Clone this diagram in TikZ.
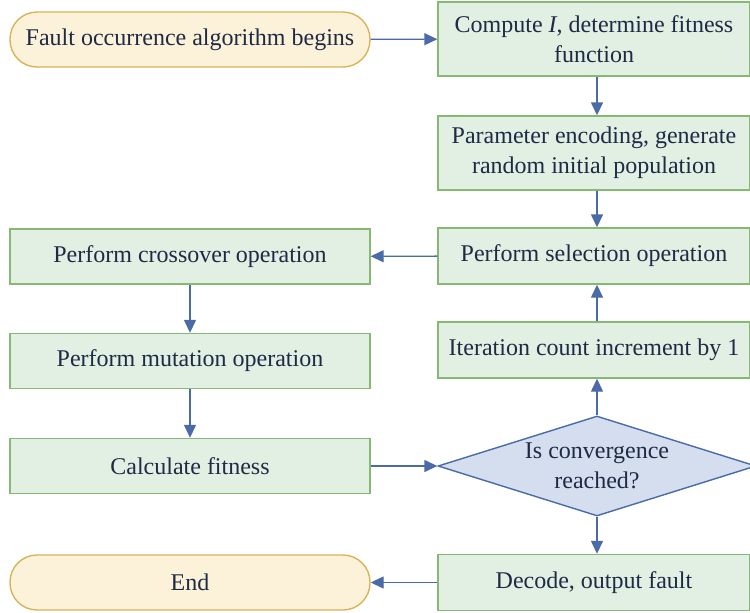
\documentclass[tikz,border=0pt]{standalone}
\usepackage{fontspec}
\setmainfont{Liberation Serif}
\usetikzlibrary{shapes.geometric,arrows.meta}
\definecolor{greenfill}{HTML}{E2EFE3}
\definecolor{greenline}{HTML}{86BA73}
\definecolor{goldfill}{HTML}{FCF1D9}
\definecolor{goldline}{HTML}{D8B457}
\definecolor{bluefill}{HTML}{D5DEEE}
\definecolor{blueline}{HTML}{4A6AA8}
\definecolor{inknavy}{HTML}{1F2A44}
\begin{document}
\begin{tikzpicture}[x=1pt, y=-1pt,
    every node/.style={font=\fontsize{24}{30}\selectfont, text=inknavy, align=center, inner sep=2pt},
    procbox/.style={draw=greenline, fill=greenfill, line width=1.4pt, minimum width=312pt, minimum height=56pt},
    leftbox/.style={procbox, minimum width=360pt, minimum height=55pt},
    terminal/.style={draw=goldline, fill=goldfill, line width=1.4pt, rounded corners=27pt, minimum width=360pt, minimum height=55pt},
    decision/.style={diamond, aspect=3.18, draw=blueline, fill=bluefill, line width=1.4pt, minimum width=318pt, minimum height=100pt, inner sep=0pt},
    flow/.style={draw=blueline, line width=1.4pt, -{Triangle[length=13pt, width=12pt]}}]
    \useasboundingbox (0, 0) rectangle (750, 613);
    % right column
    \node [terminal] (begin) at (190, 39.5) {Fault occurrence algorithm begins};
    \node [procbox, minimum height=74pt] (compute) at (594, 39) {Compute \textit{I}, determine fitness\\function};
    \node [procbox, minimum height=74pt] (encode) at (594, 153) {Parameter encoding, generate\\random initial population};
    \node [procbox] (select) at (594, 256) {Perform selection operation};
    \node [procbox] (iterate) at (594, 350) {Iteration count increment by 1};
    \node [decision] (converge) at (597, 466) {Is convergence\\reached?};
    \node [procbox] (decode) at (594, 582.5) {Decode, output fault};
    % left column
    \node [leftbox] (cross) at (190, 256.5) {Perform crossover operation};
    \node [leftbox] (mutate) at (190, 361) {Perform mutation operation};
    \node [leftbox] (fitness) at (190, 466) {Calculate fitness};
    \node [terminal] (finish) at (190, 582.5) {End};
    % connectors
    \draw [flow] (begin) -- (compute);
    \draw [flow] (compute.south -| converge) -- (encode.north -| converge);
    \draw [flow] (encode.south -| converge) -- (select.north -| converge);
    \draw [flow] (select) -- (cross);
    \draw [flow] (cross) -- (mutate);
    \draw [flow] (mutate) -- (fitness);
    \draw [flow] (fitness) -- (converge);
    \draw [flow] (converge) -- (iterate.south -| converge);
    \draw [flow] (iterate.north -| converge) -- (select.south -| converge);
    \draw [flow] (converge) -- (decode.north -| converge);
    \draw [flow] (decode) -- (finish);
\end{tikzpicture}
\end{document}
